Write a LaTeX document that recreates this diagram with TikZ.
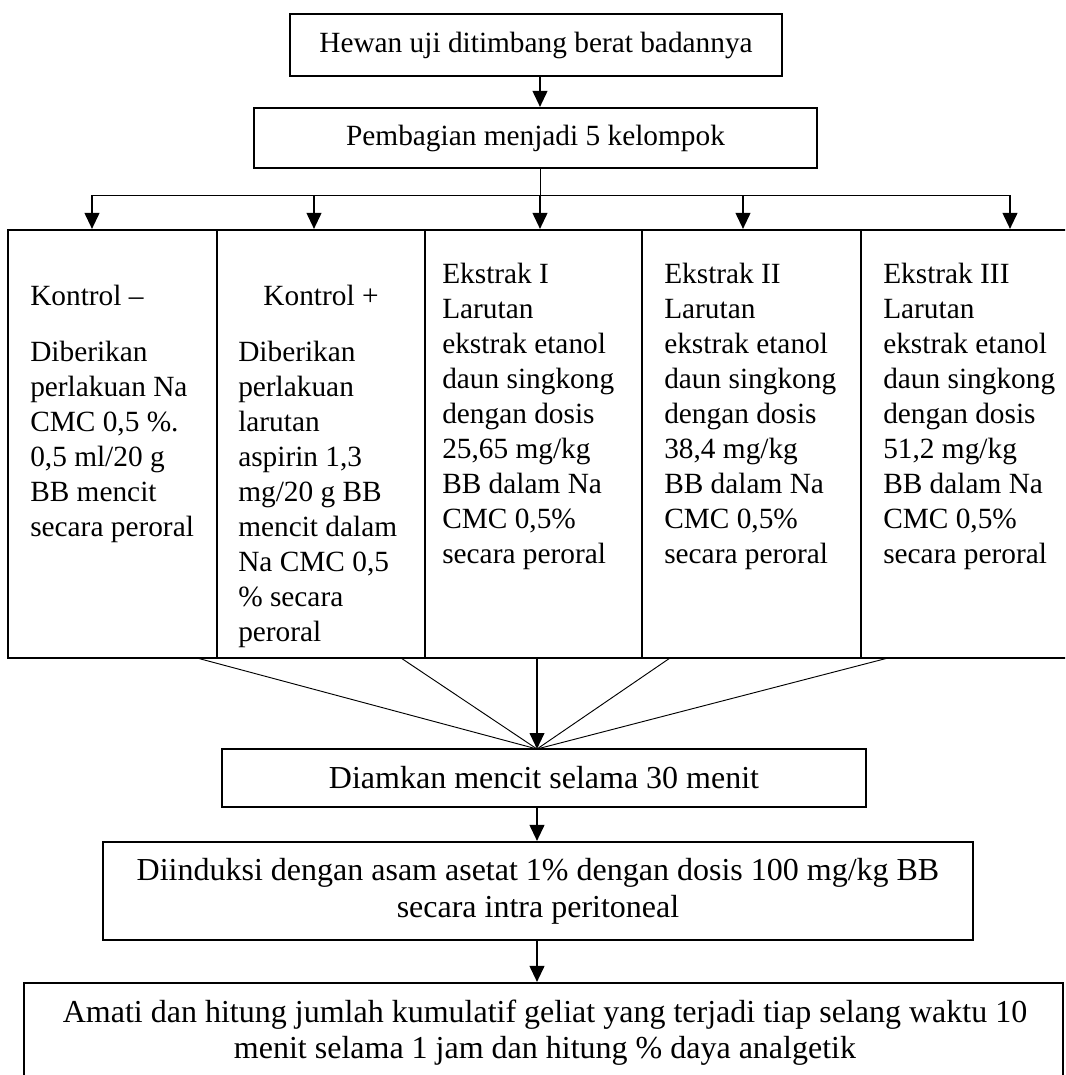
\documentclass[tikz,border=0pt]{standalone}
\usepackage{fontspec}
\setmainfont{Liberation Serif}
\usetikzlibrary{arrows.meta}
\begin{document}
\begin{tikzpicture}[x=0.75pt,y=-0.75pt,
  box/.style={draw,line width=1.6pt,inner sep=0pt},
  flowtext/.style={font=\fontsize{24}{27.5}\selectfont,align=center},
  toptext/.style={font=\fontsize{22}{26.25}\selectfont,align=center},
  grouptext/.style={font=\fontsize{22}{26.25}\selectfont,align=left,inner sep=0pt},
  arr/.style={line width=1.5pt,-{Triangle[length=12pt,width=11pt]}},
  thinline/.style={line width=0.7pt}]
\useasboundingbox (0,0) rectangle (1065,1075);
\clip (0,0) rectangle (1065,1075);
\newcommand{\firstline}{\rule{0pt}{20pt}}

% flow boxes
\node[box,toptext,minimum width=369pt,minimum height=46.5pt] (hewan) at (536,45) {Hewan uji ditimbang berat badannya};
\node[box,toptext,minimum width=422.25pt,minimum height=45pt] (pemb) at (535.5,138) {Pembagian menjadi 5 kelompok};

% five group boxes
\node[box,minimum width=156.75pt,minimum height=321pt] (b1) at (112.5,444) {};
\node[box,minimum width=156pt,minimum height=321pt] (b2) at (321,444) {};
\node[box,minimum width=162.75pt,minimum height=321pt] (b3) at (533.5,444) {};
\node[box,minimum width=164.25pt,minimum height=321pt] (b4) at (751.5,444) {};
\node[box,minimum width=164.25pt,minimum height=321pt] (b5) at (970.5,444) {};

% group texts
\node[grouptext,anchor=base west] (t1h) at (30,305.5) {Kontrol –};
\node[grouptext,anchor=north west] (t1b) at (30,334.3) {\firstline Diberikan\\perlakuan Na\\CMC 0,5 \%.\\0,5 ml/20 g\\BB mencit\\secara peroral};
\node[grouptext,anchor=base] (t2h) at (321,305.5) {Kontrol +};
\node[grouptext,anchor=north west] (t2b) at (238,334.3) {\firstline Diberikan\\perlakuan\\larutan\\aspirin 1,3\\mg/20 g BB\\mencit dalam\\Na CMC 0,5\\\% secara\\peroral};
\node[grouptext,anchor=north west] (t3) at (442,256.3) {\firstline Ekstrak I\\Larutan\\ekstrak etanol\\daun singkong\\dengan dosis\\25,65 mg/kg\\BB dalam Na\\CMC 0,5\%\\secara peroral};
\node[grouptext,anchor=north west] (t4) at (664,256.3) {\firstline Ekstrak II\\Larutan\\ekstrak etanol\\daun singkong\\dengan dosis\\38,4 mg/kg\\BB dalam Na\\CMC 0,5\%\\secara peroral};
\node[grouptext,anchor=north west] (t5) at (883,256.3) {\firstline Ekstrak III\\Larutan\\ekstrak etanol\\daun singkong\\dengan dosis\\51,2 mg/kg\\BB dalam Na\\CMC 0,5\%\\secara peroral};

% lower flow boxes
\node[box,flowtext,minimum width=483pt,minimum height=43.5pt] (diam) at (544,778) {Diamkan mencit selama 30 menit};
\node[box,flowtext,minimum width=652.5pt,minimum height=73.5pt] (diind) at (538,891) {Diinduksi dengan asam asetat 1\% dengan dosis 100 mg/kg BB\\secara intra peritoneal};
\node[box,minimum width=779.25pt,minimum height=87.75pt] (amati) at (543.5,1041.5) {};
\node[flowtext,inner sep=0pt,anchor=north] (amatit) at (545,995.3) {\firstline Amati dan hitung jumlah kumulatif geliat yang terjadi tiap selang waktu 10\\menit selama 1 jam dan hitung \% daya analgetik};

% connectors top
\coordinate (a1) at (92,195);
\coordinate (a2) at (314,195);
\coordinate (a3) at (540,195);
\coordinate (a4) at (743,195);
\coordinate (a5) at (1010,195);
\draw[arr] (hewan.south -| a3) -- (pemb.north -| a3);
\draw[thinline] (pemb.south -| a3) -- (a3);
\draw[thinline] (a1) -- (a5);
\draw[arr] (a1) -- (a1 |- b1.north);
\draw[arr] (a2) -- (a2 |- b2.north);
\draw[arr] (a3) -- (a3 |- b3.north);
\draw[arr] (a4) -- (a4 |- b4.north);
\draw[arr] (a5) -- (a5 |- b5.north);

% converging lines
\coordinate (meet) at (537,749);
\coordinate (c1) at (197,658);
\coordinate (c2) at (401,658);
\coordinate (c3) at (537,658);
\coordinate (c4) at (670,658);
\coordinate (c5) at (888,658);
\draw[thinline] (c1) -- (meet);
\draw[thinline] (c2) -- (meet);
\draw[thinline] (c4) -- (meet);
\draw[thinline] (c5) -- (meet);
\draw[arr] (c3) -- (meet);

% connectors bottom
\draw[arr] (meet |- diam.south) -- (meet |- diind.north);
\draw[arr] (meet |- diind.south) -- (meet |- amati.north);
\end{tikzpicture}
\end{document}
